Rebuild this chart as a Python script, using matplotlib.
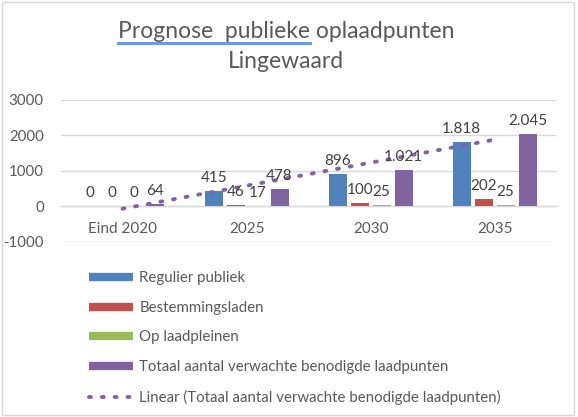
import numpy as np
import matplotlib
matplotlib.use("Agg")
import matplotlib.pyplot as plt
from matplotlib.lines import Line2D
from matplotlib.patches import Rectangle

categories = ["Eind 2020", "2025", "2030", "2035"]
series_names = ["Regulier publiek", "Bestemmingsladen", "Op laadpleinen",
                "Totaal aantal verwachte benodigde laadpunten"]
regulier = [0, 415, 896, 1818]
bestemming = [0, 46, 100, 202]
laadpleinen = [0, 17, 25, 25]
totaal = [64, 478, 1021, 2045]
trend_label = "Linear (Totaal aantal verwachte benodigde laadpunten)"
yticks = [-1000, 0, 1000, 2000, 3000]

colors = ["#4F81BD", "#C0504D", "#9BBB59", "#8064A2"]
txt_axis = "#595959"
txt_lab = "#404040"
grid_c = "#D9D9D9"

plt.rcParams["font.family"] = ["Lato", "DejaVu Sans"]

W, H = 578, 417
fig = plt.figure(figsize=(W / 100, H / 100), dpi=100)
fig.patch.set_facecolor("white")

def fx(px):
    return px / W

def fy(py):
    return 1 - py / H

left, right, top, bottom = 60.5, 556.7, 99.7, 241.7
ax = fig.add_axes([fx(left), fy(bottom), fx(right) - fx(left), (bottom - top) / H])
ax.set_facecolor("none")

series = [regulier, bestemming, laadpleinen, totaal]
x = np.arange(len(categories))
step = 0.177
bw = 0.145

def fmt(v):
    return f"{v:,}".replace(",", ".")

for j, (vals, c) in enumerate(zip(series, colors)):
    xs = x + (j - 1.5) * step
    ax.bar(xs, vals, width=bw, color=c, zorder=3)
    for xi, v in zip(xs, vals):
        ax.annotate(fmt(v), (xi, v), xytext=(0, 4.3), textcoords="offset points",
                    ha="center", va="bottom", fontsize=11, color=txt_lab, zorder=5)

trend_ls = (0, (0.5, 2.8))
# linear trendline of totals (as Excel computes it)
coef = np.polyfit(x, totaal, 1)
tx = np.array([x[0], x[-1]])
ax.plot(tx, np.polyval(coef, tx), color=colors[3], lw=2.8,
        linestyle=trend_ls, dash_capstyle="round", zorder=4)

ax.set_xlim(-0.5, len(categories) - 0.5)
ax.set_ylim(-1000, 3000)
ax.set_yticks(yticks)
ax.set_yticklabels([str(v) for v in yticks])
ax.grid(axis="y", color=grid_c, lw=1.0, zorder=0)
ax.set_axisbelow(True)
for s in ["top", "right", "left"]:
    ax.spines[s].set_visible(False)
ax.spines["bottom"].set_position(("data", 0))
ax.spines["bottom"].set_color(grid_c)
ax.spines["bottom"].set_linewidth(1.0)
ax.set_xticks(x)
ax.set_xticklabels(categories)
ax.tick_params(axis="x", length=0, pad=11.5, labelsize=11, labelcolor=txt_axis)
ax.tick_params(axis="y", length=0, pad=12, labelsize=10.8, labelcolor=txt_axis)

# legend
handles = [Line2D([0], [0], color=c, lw=6, solid_capstyle="butt") for c in colors]
handles.append(Line2D([0], [0], color=colors[3], lw=2.8, linestyle=trend_ls,
                      dash_capstyle="round"))
leg = fig.legend(handles, series_names + [trend_label], loc="upper left",
                 bbox_to_anchor=(fx(89), fy(271)), frameon=False, fontsize=10.8,
                 handlelength=2.9, handletextpad=0.45, labelspacing=1.05,
                 labelcolor=txt_axis, borderpad=0, borderaxespad=0)

# title
tfs = 16.5
t1 = fig.text(fx(286), fy(32), "Prognose  publieke oplaadpunten", ha="center",
              va="center", fontsize=tfs, color=txt_axis)
fig.text(fx(286), fy(62), "Lingewaard", ha="center", va="center",
         fontsize=tfs, color=txt_axis)
fig.canvas.draw()
r = fig.canvas.get_renderer()
ext = t1.get_window_extent(r)
tmp = fig.text(0, 0, "Prognose  publieke", fontsize=tfs)
wext = tmp.get_window_extent(r)
tmp.remove()
ul_y = fy(43)
fig.add_artist(Line2D([ext.x0 / W, (ext.x0 + wext.width) / W], [ul_y, ul_y],
                      color="#6A9AE8", lw=2.2, transform=fig.transFigure))

# chart border
fig.add_artist(Rectangle((fx(1.5), fy(414.5)), fx(574) - fx(1.5), (414.5 - 1.5) / H,
                         transform=fig.transFigure, fill=False, edgecolor=grid_c, lw=1))

fig.savefig("out.png", dpi=100)
